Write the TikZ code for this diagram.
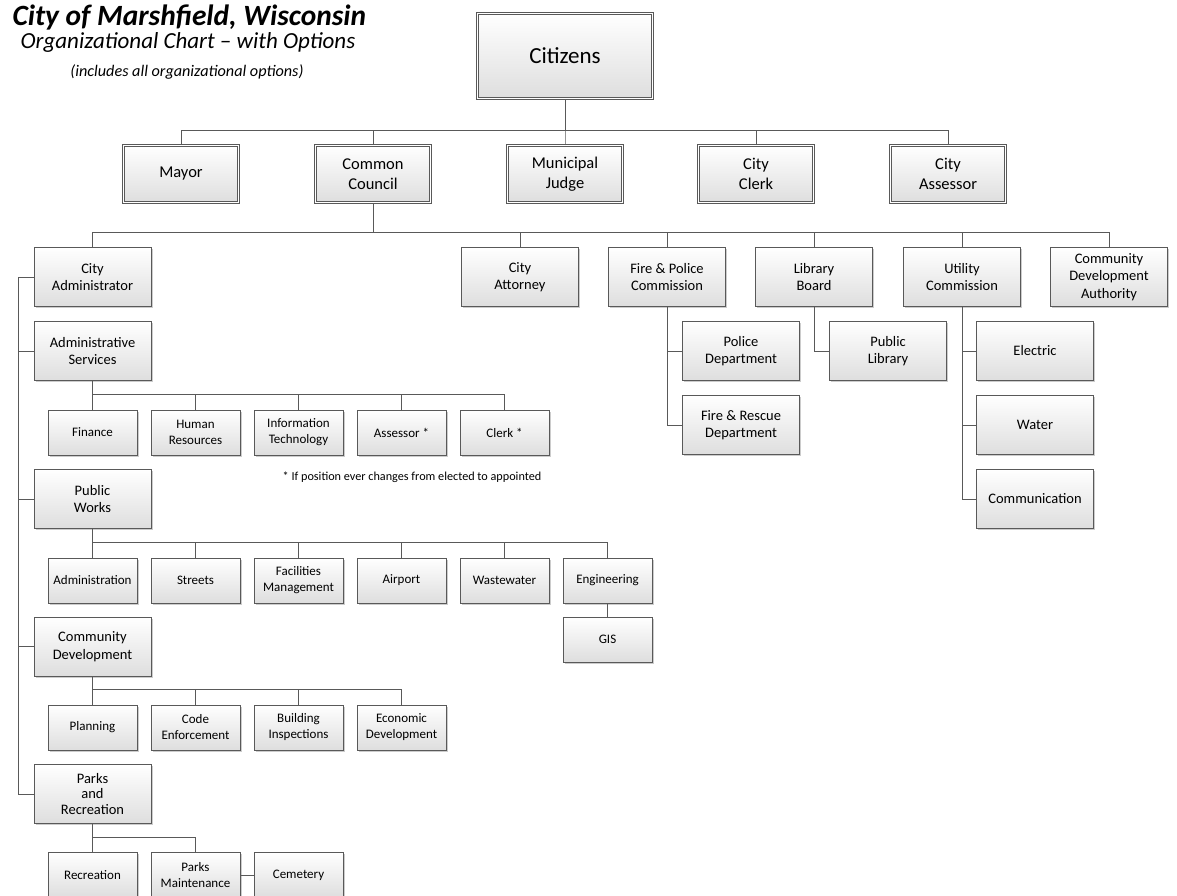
\documentclass[tikz,border=0pt]{standalone}
\usepackage{fontspec}
\setmainfont{Carlito}
\usetikzlibrary{positioning, shadows}

\begin{document}
\begin{tikzpicture}[x=1pt, y=-1pt, on grid, node distance=74pt and 103pt,
  box/.style={draw=black!65, line width=0.7pt, top color=white, bottom color=black!13, align=center, inner sep=1pt,
    drop shadow={shadow xshift=1.5pt, shadow yshift=-1.5pt, opacity=0.2, fill=black}},
  dbox/.style={box, double=white, double distance=1.4pt},
  chief/.style={dbox, minimum width=175pt, minimum height=85pt, font=\fontsize{23}{27}\selectfont},
  office/.style={dbox, minimum width=115pt, minimum height=57pt, font=\fontsize{16.5}{20}\selectfont},
  dept/.style={box, minimum width=117pt, minimum height=59pt, font=\fontsize{14.5}{17.5}\selectfont},
  div/.style={box, minimum width=89pt, minimum height=45pt, font=\fontsize{13}{16}\selectfont},
  link/.style={draw=black!65, line width=0.8pt}]
	\useasboundingbox (0,0) rectangle (1177,895);
	
	% heading
	\node[anchor=west, font=\fontsize{29.4}{32}\selectfont\bfseries\itshape] (title) at (9,17) {City of Marshfield, Wisconsin};
	\node[font=\fontsize{23}{26}\selectfont\itshape] (subtitle) at (188,42) {Organizational Chart -- with Options};
	\node[font=\fontsize{16.2}{18}\selectfont\itshape] (scope) at (187,72) {(includes all organizational options)};
	
	% elected
	\node[chief] (citizens) at (565,56) {Citizens};
	\node[office] (mayor) at (181,174) {Mayor};
	\node[office, right=192pt of mayor] (council) {Common\\Council};
	\node[office, right=192pt of council] (judge) {Municipal\\Judge};
	\node[office, right=191pt of judge] (clerk) {City\\Clerk};
	\node[office, right=192pt of clerk] (assessor) {City\\Assessor};
	
	% boards and commissions
	\node[dept] (administrator) at (92.5,277) {City\\Administrator};
	\node[dept] (attorney) at (520,277) {City\\Attorney};
	\node[dept, right=147pt of attorney] (firepolice) {Fire \& Police\\Commission};
	\node[dept, right=147pt of firepolice] (library) {Library\\Board};
	\node[dept, right=148pt of library] (utility) {Utility\\Commission};
	\node[dept, right=147pt of utility] (cda) {Community\\Development\\Authority};
	
	\node[dept, below right=74pt and 74pt of firepolice] (police) {Police\\Department};
	\node[dept, below=of police] (firerescue) {Fire \& Rescue\\Department};
	\node[dept, below right=74pt and 74pt of library] (publib) {Public\\Library};
	\node[dept, below right=74pt and 73pt of utility] (electric) {Electric};
	\node[dept, below=of electric] (water) {Water};
	\node[dept, below=of water] (communication) {Communication};
	
	% administration
	\node[dept, below=of administrator] (adminsvc) {Administrative\\Services};
	\node[div, below=81.5pt of adminsvc] (finance) {Finance};
	\node[div, right=of finance] (hr) {Human\\Resources};
	\node[div, right=of hr] (it) {Information\\Technology};
	\node[div, right=of it] (assessor2) {Assessor *};
	\node[div, right=of assessor2] (clerk2) {Clerk *};
	\node[font=\fontsize{12.2}{15}\selectfont] (footnote) at (412,477) {* If position ever changes from elected to appointed};
	
	\node[dept, below=148pt of adminsvc] (publicworks) {Public\\Works};
	\node[div, below=81.5pt of publicworks] (administration) {Administration};
	\node[div, right=of administration] (streets) {Streets};
	\node[div, right=of streets] (facilities) {Facilities\\Management};
	\node[div, right=of facilities] (airport) {Airport};
	\node[div, right=of airport] (wastewater) {Wastewater};
	\node[div, right=of wastewater] (engineering) {Engineering};
	\node[div, below=59pt of engineering] (gis) {GIS};
	
	\node[dept, below=147.5pt of publicworks] (commdev) {Community\\Development};
	\node[div, below=81pt of commdev] (planning) {Planning};
	\node[div, right=of planning] (code) {Code\\Enforcement};
	\node[div, right=of code] (inspections) {Building\\Inspections};
	\node[div, right=of inspections] (economic) {Economic\\Development};
	
	\node[dept, below=147.5pt of commdev, font=\fontsize{14.5}{15.5}\selectfont] (parks) {Parks\\and\\Recreation};
	\node[div, below=81pt of parks] (recreation) {Recreation};
	\node[div, right=of recreation] (parkmaint) {Parks\\Maintenance};
	\node[div, right=of parkmaint] (cemetery) {Cemetery};
	
	% connectors
	\coordinate (spine) at (18,0);
	\foreach \n in {mayor,council,judge,clerk,assessor}
		\draw[link] (\n.north) -- ++(0,-15) -| (citizens.south);
	\foreach \n in {administrator,attorney,firepolice,library,utility,cda}
		\draw[link] (\n.north) -- ++(0,-15) -| (council.south);
	\draw[link] (administrator.west) -- (administrator.west -| spine) -- (parks.west -| spine) -- (parks.west);
	\foreach \n in {adminsvc,publicworks,commdev}
		\draw[link] (\n.west) -- (\n.west -| spine);
	\foreach \n in {police,firerescue}
		\draw[link] (firepolice.south) |- (\n.west);
	\draw[link] (library.south) |- (publib.west);
	\foreach \n in {electric,water,communication}
		\draw[link] (utility.south) |- (\n.west);
	\foreach \n in {finance,hr,it,assessor2,clerk2}
		\draw[link] (\n.north) -- ++(0,-15) -| (adminsvc.south);
	\foreach \n in {administration,streets,facilities,airport,wastewater,engineering}
		\draw[link] (\n.north) -- ++(0,-15) -| (publicworks.south);
	\draw[link] (engineering) -- (gis);
	\foreach \n in {planning,code,inspections,economic}
		\draw[link] (\n.north) -- ++(0,-15) -| (commdev.south);
	\foreach \n in {recreation,parkmaint}
		\draw[link] (\n.north) -- ++(0,-15) -| (parks.south);
	\draw[link] (parkmaint) -- (cemetery);
\end{tikzpicture}
\end{document}
